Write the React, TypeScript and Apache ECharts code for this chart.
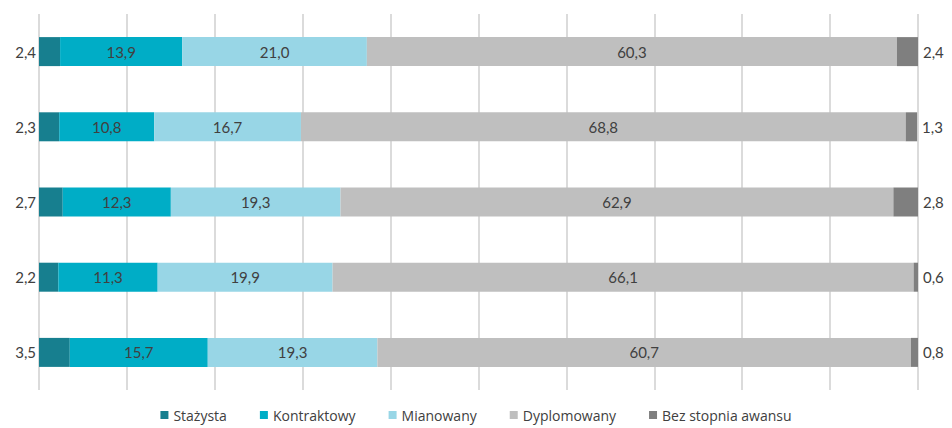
import React, { useEffect, useRef } from "react";
import * as echarts from "echarts";

const categories = ["A", "B", "C", "D", "E"];
const seriesNames = ["Stażysta", "Kontraktowy", "Mianowany", "Dyplomowany", "Bez stopnia awansu"];
const stazysta = [2.4, 2.3, 2.7, 2.2, 3.5];
const kontraktowy = [13.9, 10.8, 12.3, 11.3, 15.7];
const mianowany = [21.0, 16.7, 19.3, 19.9, 19.3];
const dyplomowany = [60.3, 68.8, 62.9, 66.1, 60.7];
const bezStopnia = [2.4, 1.3, 2.8, 0.6, 0.8];
const colors = ["#177f8f", "#00adc6", "#98d6e6", "#bfbfbf", "#7f7f7f"];

const fmt = (p: any) => Number(p.value).toFixed(1).replace(".", ",");

export default function App() {
  const ref = useRef<HTMLDivElement>(null);
  useEffect(() => {
    if (!ref.current) return;
    const chart = echarts.init(ref.current, undefined, { renderer: "svg" });
    const data = [stazysta, kontraktowy, mianowany, dyplomowany, bezStopnia];
    const font = "Lato, 'Open Sans', sans-serif";
    chart.setOption({
      animation: false,
      textStyle: { fontFamily: font },
      grid: { left: 39, right: 34, top: 14, bottom: 38 },
      legend: {
        top: 406,
        left: "center",
        padding: [2, 5, 2, 5],
        icon: "rect",
        itemWidth: 8,
        itemHeight: 8,
        itemGap: 33,
        textStyle: { fontSize: 14, color: "#404040", fontFamily: "'Open Sans', sans-serif" },
        data: seriesNames,
      },
      xAxis: {
        type: "value",
        min: 0,
        max: 100,
        interval: 10,
        axisLabel: { show: false },
        axisLine: { show: false },
        axisTick: { show: false },
        splitLine: { show: true, lineStyle: { color: "#cfcfcf", width: 1.5 } },
      },
      yAxis: {
        type: "category",
        data: categories,
        inverse: true,
        axisLabel: { show: false },
        axisLine: { show: false },
        axisTick: { show: false },
      },
      series: seriesNames.map((name, i) => ({
        name,
        type: "bar",
        stack: "total",
        barWidth: 29,
        data: data[i],
        itemStyle: { color: colors[i] },
        label: {
          show: true,
          position: i === 0 ? "left" : i === 4 ? "right" : "inside",
          distance: i === 0 ? 3 : 5,
          formatter: fmt,
          color: "#404040",
          fontSize: 15,
          fontFamily: font,
        },
      })),
    });
    return () => chart.dispose();
  }, []);
  return (
    <div
      ref={ref}
      style={{ position: "fixed", left: 0, top: 0, width: 952, height: 428, background: "#fff" }}
    />
  );
}
